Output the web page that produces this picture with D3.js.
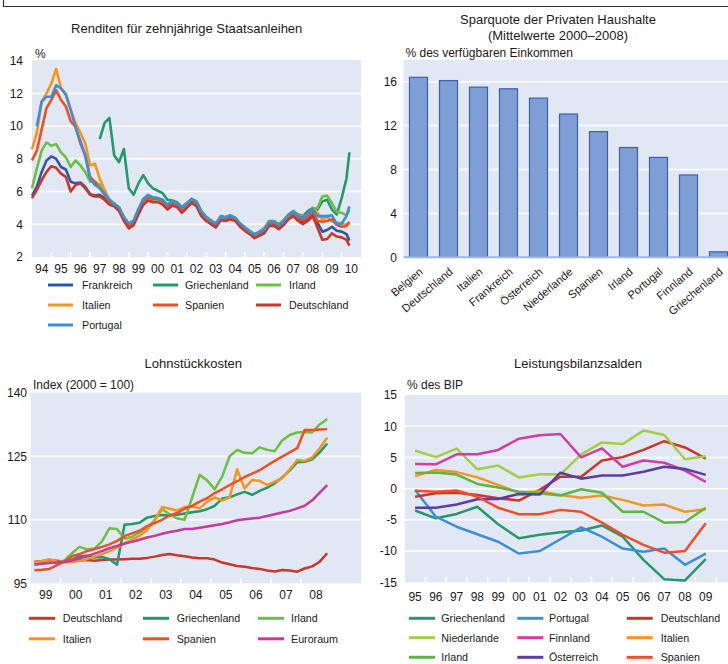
<!DOCTYPE html>
<html><head><meta charset="utf-8">
<script src="https://cdn.jsdelivr.net/npm/d3@7"></script>
<style>
body{margin:0;background:#fff}
svg text{font-family:"Liberation Sans",Arial,sans-serif;fill:#1a1a1a}
</style></head>
<body><svg id="c" width="728" height="664"></svg>
<script>
// ---------- Panel 1: Renditen (quarterly grid) ----------
const yieldDates = [1994.0,1994.25,1994.5,1994.75,1995.0,1995.25,1995.5,1995.75,1996.0,1996.25,1996.5,1996.75,
1997.0,1997.25,1997.5,1997.75,1998.0,1998.25,1998.5,1998.75,1999.0,1999.25,1999.5,1999.75,2000.0,2000.25,2000.5,2000.75,
2001.0,2001.25,2001.5,2001.75,2002.0,2002.25,2002.5,2002.75,2003.0,2003.25,2003.5,2003.75,2004.0,2004.25,2004.5,2004.75,
2005.0,2005.25,2005.5,2005.75,2006.0,2006.25,2006.5,2006.75,2007.0,2007.25,2007.5,2007.75,2008.0,2008.25,2008.5,2008.75,
2009.0,2009.25,2009.5,2009.75,2010.0,2010.25,2010.4];
const yieldFrankreich = [5.75,6.3,7.2,7.9,8.15,8.0,7.5,7.35,6.6,6.5,6.55,6.3,5.85,5.75,5.8,5.6,5.3,5.15,4.95,4.3,
3.85,4.05,4.75,5.35,5.6,5.5,5.45,5.3,5.0,5.25,5.15,4.85,5.1,5.4,5.2,4.6,4.3,4.1,3.9,4.35,
4.3,4.4,4.3,3.95,3.7,3.5,3.25,3.4,3.55,4.0,4.0,3.8,4.05,4.4,4.6,4.35,4.15,4.35,4.7,4.1,
3.55,3.65,3.85,3.6,3.55,3.4,3.0];
const yieldGriechenland = [null,null,null,null,null,null,null,null,null,null,null,null,null,null,9.2,10.2,10.5,8.2,7.8,8.6,
6.2,5.8,6.5,7.0,6.5,6.2,6.05,5.9,5.5,5.45,5.35,5.05,5.3,5.55,5.4,4.8,4.45,4.25,4.05,4.5,
4.45,4.55,4.4,4.05,3.8,3.6,3.4,3.55,3.75,4.2,4.2,4.0,4.25,4.6,4.8,4.6,4.5,4.8,5.0,4.9,
5.4,5.5,4.9,4.6,5.6,6.8,8.4];
const yieldIrland = [6.2,7.4,8.5,9.0,8.8,8.9,8.4,8.1,7.5,7.9,7.6,7.2,6.6,6.6,6.4,6.0,5.5,5.3,5.0,4.4,
3.9,4.1,4.8,5.4,5.6,5.5,5.5,5.35,5.05,5.3,5.2,4.85,5.15,5.45,5.25,4.65,4.35,4.15,3.95,4.4,
4.35,4.45,4.35,4.0,3.75,3.55,3.3,3.45,3.6,4.05,4.05,3.85,4.1,4.45,4.7,4.45,4.35,4.6,4.9,5.0,
5.7,5.75,5.3,4.75,4.7,4.55,4.9];
const yieldItalien = [8.6,9.6,11.5,12.0,12.6,13.5,12.3,12.0,11.0,10.2,9.6,8.95,7.6,7.7,6.8,6.1,5.5,5.2,5.0,4.5,
4.05,4.25,4.9,5.5,5.75,5.6,5.6,5.5,5.2,5.4,5.3,5.0,5.25,5.5,5.35,4.75,4.4,4.25,4.0,4.45,
4.4,4.5,4.4,4.05,3.8,3.6,3.35,3.5,3.7,4.15,4.15,3.95,4.2,4.55,4.75,4.55,4.45,4.6,5.0,4.7,
4.3,4.45,4.2,4.1,4.05,3.95,4.1];
const yieldSpanien = [7.9,8.5,9.8,11.1,11.6,12.2,11.6,11.2,10.3,9.95,8.95,8.2,6.9,6.6,6.2,5.8,5.3,5.2,5.0,4.35,
3.95,4.15,4.85,5.45,5.7,5.55,5.55,5.4,5.1,5.35,5.25,4.9,5.2,5.45,5.3,4.7,4.35,4.2,3.95,4.4,
4.35,4.45,4.3,4.0,3.7,3.5,3.25,3.4,3.6,4.05,4.05,3.8,4.1,4.45,4.65,4.4,4.25,4.45,4.8,4.2,
4.15,4.2,4.3,3.95,3.85,3.9,4.15];
const yieldDeutschland = [5.6,6.1,6.7,7.2,7.55,7.45,7.1,6.9,6.0,6.4,6.5,6.2,5.8,5.7,5.7,5.5,5.2,5.1,4.8,4.2,
3.75,3.95,4.6,5.2,5.45,5.35,5.35,5.2,4.9,5.15,5.05,4.7,5.0,5.3,5.1,4.5,4.2,4.0,3.8,4.25,
4.2,4.3,4.2,3.85,3.6,3.4,3.15,3.3,3.45,3.9,3.9,3.7,3.95,4.3,4.5,4.2,4.0,4.2,4.5,3.8,
3.05,3.1,3.45,3.25,3.2,3.05,2.7];
const yieldPortugal = [null,10.0,11.5,11.8,11.8,12.5,12.3,11.9,11.0,9.9,9.1,8.2,6.8,6.4,6.2,5.9,5.5,5.2,5.05,4.4,
4.05,4.2,4.95,5.55,5.8,5.65,5.6,5.5,5.2,5.4,5.3,5.0,5.25,5.55,5.35,4.75,4.4,4.2,4.0,4.45,
4.4,4.5,4.4,4.05,3.8,3.55,3.35,3.5,3.65,4.1,4.15,3.95,4.15,4.55,4.75,4.5,4.4,4.65,4.95,4.5,
4.5,4.5,4.55,4.0,4.05,4.5,5.1];
const yieldYearLabels = ["94","95","96","97","98","99","00","01","02","03","04","05","06","07","08","09","10"];
const yieldYTicks = [2,4,6,8,10,12,14];

// ---------- Panel 2: Sparquote ----------
const savingCountries = ["Belgien","Deutschland","Italien","Frankreich","Österreich","Niederlande","Spanien","Irland","Portugal","Finnland","Griechenland"];
const savingValues = [16.4,16.1,15.5,15.35,14.5,13.05,11.45,10.0,9.1,7.5,0.5];
const savingYTicks = [0,4,8,12,16];

// ---------- Panel 3: Lohnstückkosten (quarterly 1999Q1-2008Q4) ----------
const ulcYears = ["99","00","01","02","03","04","05","06","07","08"];
const ulcDeutschland = [100.1,100.2,100.4,100.3,100.1,100.2,100.4,100.5,100.3,100.5,100.6,100.6,100.7,100.8,100.8,101.0,101.3,101.7,101.9,101.6,
101.4,101.1,100.9,100.9,100.6,99.9,99.5,99.1,98.9,98.6,98.4,98.0,97.8,98.15,98.0,97.75,98.5,99.0,100.1,102.1];
const ulcGriechenland = [99.8,100.0,100.1,99.8,100.2,100.6,101.4,101.5,101.1,101.2,100.7,99.4,108.8,109.0,109.3,110.5,110.9,111.1,111.0,111.2,
111.5,111.8,112.0,112.5,113.3,115.0,115.3,116.0,116.6,115.9,116.8,117.6,118.6,120.0,121.6,123.6,123.7,124.3,125.9,128.0];
const ulcIrland = [99.8,100.0,100.0,99.9,100.4,102.1,103.6,103.0,103.2,104.9,108.0,107.8,105.5,106.0,107.0,108.2,109.8,112.5,111.3,110.3,
110.0,115.2,120.6,119.3,117.2,120.2,125.0,126.5,125.8,125.7,127.1,126.5,126.2,128.7,130.0,130.6,130.7,130.6,132.5,133.8];
const ulcItalien = [99.9,100.3,100.7,100.1,99.9,100.0,100.3,100.7,101.3,101.9,102.6,103.4,104.4,105.3,106.2,107.5,110.0,113.0,112.6,112.2,
113.0,113.1,112.7,114.3,115.3,114.5,115.3,121.9,117.4,119.4,119.2,118.2,119.0,119.8,121.9,124.1,123.9,124.7,126.9,129.4];
const ulcSpanien = [98.1,98.2,98.4,99.3,100.2,101.4,101.9,102.6,103.1,103.6,104.2,105.0,106.2,106.8,107.4,108.5,109.2,110.0,111.0,111.6,
112.6,113.3,114.3,115.1,116.3,117.2,118.2,119.1,120.1,120.9,121.7,122.8,123.9,124.9,125.9,126.9,131.2,131.2,131.3,131.4];
const ulcEuroraum = [99.4,99.6,99.8,99.9,100.1,100.4,100.9,101.4,102.0,102.6,103.3,103.8,104.4,104.8,105.3,105.8,106.2,106.7,107.1,107.4,
107.8,107.8,108.1,108.4,108.7,109.0,109.4,109.9,110.1,110.3,110.5,110.9,111.3,111.7,112.1,112.7,113.3,114.6,116.4,118.2];
const ulcYTicks = [95,110,125,140];

// ---------- Panel 4: Leistungsbilanzsalden (annual 1995-2009) ----------
const caYears = [1995,1996,1997,1998,1999,2000,2001,2002,2003,2004,2005,2006,2007,2008,2009];
const caYearLabels = ["95","96","97","98","99","00","01","02","03","04","05","06","07","08","09"];
const caGriechenland = [-3.5,-4.75,-4.05,-2.9,-5.7,-7.95,-7.4,-7.0,-6.7,-5.9,-7.7,-11.4,-14.5,-14.7,-11.3];
const caPortugal = [-0.2,-4.5,-6.1,-7.3,-8.5,-10.4,-10.0,-8.1,-6.2,-7.7,-9.6,-10.1,-9.6,-12.2,-10.4];
const caDeutschland = [-1.3,-0.75,-0.65,-1.0,-1.55,-1.9,-0.2,1.9,1.9,4.5,5.05,6.2,7.6,6.6,4.8];
const caNiederlande = [6.1,5.05,6.4,3.1,3.7,1.8,2.3,2.3,5.5,7.4,7.15,9.3,8.6,4.7,5.2];
const caFinnland = [3.95,3.9,5.5,5.5,6.2,8.0,8.55,8.75,5.0,6.45,3.5,4.5,4.15,2.9,1.1];
const caItalien = [2.0,3.0,2.65,1.8,0.6,-0.65,-0.4,-1.0,-1.45,-1.1,-1.8,-2.7,-2.55,-3.7,-3.3];
const caIrland = [2.5,2.6,2.25,0.75,0.2,-0.5,-0.75,-1.1,-0.1,-0.65,-3.7,-3.7,-5.45,-5.35,-3.05];
const caOesterreich = [-3.05,-3.05,-2.55,-1.7,-1.65,-0.85,-0.95,2.55,1.6,2.1,2.1,2.7,3.5,3.15,2.2];
const caSpanien = [-0.35,-0.5,-0.3,-1.3,-3.05,-4.1,-4.1,-3.4,-3.7,-5.45,-7.4,-9.0,-10.25,-10.0,-5.55];
const caYTicks = [-15,-10,-5,0,5,10,15];

// ---------- drawing ----------
const BG = "#e1e8f3";
const svg = d3.select("#c");
svg.append("path").attr("d","M3.5,0V6.5H728").attr("fill","none").attr("stroke","#333").attr("stroke-width",1.2);

function txt(x,y,s,opt={}){
  const t = svg.append("text").attr("x",x).attr("y",y).text(s)
    .attr("font-size",opt.size||12).attr("text-anchor",opt.anchor||"start");
  if(opt.dy) t.attr("dy",opt.dy);
  return t;
}
function legend(items, xs, txs, ys, w){
  items.forEach((it,i)=>{
    const c = i%3, r = Math.floor(i/3);
    svg.append("line").attr("x1",xs[c]).attr("x2",xs[c]+w).attr("y1",ys[r]).attr("y2",ys[r])
      .attr("stroke",it.color).attr("stroke-width",3);
    txt(txs[c],ys[r],it.name,{size:10.7,dy:"0.36em"});
  });
}

// Panel 1
{
  const x = d3.scaleLinear().domain([1994,2011]).range([32,361]);
  const y = d3.scaleLinear().domain([2,14]).range([257,60.7]);
  svg.append("rect").attr("x",32).attr("y",60).attr("width",329).attr("height",197).attr("fill",BG);
  yieldYTicks.forEach(v=>{
    if(v>2 && v<14) svg.append("line").attr("x1",32).attr("x2",361).attr("y1",y(v)).attr("y2",y(v)).attr("stroke","#fff").attr("stroke-width",1.5);
    txt(23,y(v),v,{anchor:"end",dy:"0.36em"});
  });
  yieldYearLabels.forEach((l,i)=>{
    const yr = 1994+i;
    if(i>0) svg.append("line").attr("x1",x(yr)).attr("x2",x(yr)).attr("y1",257).attr("y2",252).attr("stroke","#fff").attr("stroke-width",1.5);
    txt(x(yr+0.5),268.5,l,{anchor:"middle",dy:"0.36em"});
  });
  txt(186.7,28.5,"Renditen für zehnjährige Staatsanleihen",{anchor:"middle",size:13,dy:"0.36em"});
  txt(35,53.5,"%",{dy:"0.36em"});
  const series = [
    {name:"Frankreich",color:"#2c58a8",v:yieldFrankreich},
    {name:"Griechenland",color:"#23996b",v:yieldGriechenland},
    {name:"Irland",color:"#6cbf43",v:yieldIrland},
    {name:"Italien",color:"#f7941d",v:yieldItalien},
    {name:"Spanien",color:"#f04e23",v:yieldSpanien},
    {name:"Deutschland",color:"#c8372a",v:yieldDeutschland},
    {name:"Portugal",color:"#3b8fd9",v:yieldPortugal}
  ];
  const line = d3.line().defined(d=>d[1]!=null).x(d=>x(d[0])).y(d=>y(d[1]));
  series.forEach(s=>{
    svg.append("path").attr("d",line(yieldDates.map((t,i)=>[t,s.v[i]]))).attr("fill","none")
      .attr("stroke",s.color).attr("stroke-width",2.6).attr("stroke-linejoin","round");
  });
  legend(series,[48,153,256],[82,185,289],[285,305,325],25);
}

// Panel 2
{
  const x = d3.scaleBand().domain(savingCountries).range([403.5,733.5]).paddingInner(0.4).paddingOuter(0.2);
  const y = d3.scaleLinear().domain([0,18]).range([257.3,59.7]);
  svg.append("rect").attr("x",403.5).attr("y",60).attr("width",330).attr("height",197.3).attr("fill",BG);
  savingYTicks.forEach(v=>{
    if(v>0) svg.append("line").attr("x1",403.5).attr("x2",733.5).attr("y1",y(v)).attr("y2",y(v)).attr("stroke","#fff").attr("stroke-width",1.5);
    txt(397,y(v),v,{anchor:"end",dy:"0.36em"});
  });
  svg.selectAll(".bar").data(savingCountries).enter().append("rect")
    .attr("x",d=>x(d)).attr("width",x.bandwidth())
    .attr("y",(d,i)=>y(savingValues[i])).attr("height",(d,i)=>y(0)-y(savingValues[i]))
    .attr("fill","#7f9ed6").attr("stroke","#3a60b2").attr("stroke-width",1.2);
  svg.append("line").attr("x1",403.5).attr("x2",733.5).attr("y1",y(0)).attr("y2",y(0)).attr("stroke","#9bb7e4").attr("stroke-width",2);
  savingCountries.forEach(c=>{
    const cx = x(c)+x.bandwidth()/2;
    svg.append("text").attr("transform",`translate(${cx+5},${273}) rotate(-40)`)
      .attr("text-anchor","end").attr("font-size",11.2).text(c);
  });
  txt(558,19.5,"Sparquote der Privaten Haushalte",{anchor:"middle",size:13,dy:"0.36em"});
  txt(558,35,"(Mittelwerte 2000–2008)",{anchor:"middle",size:13,dy:"0.36em"});
  txt(405.5,52.5,"% des verfügbaren Einkommen",{dy:"0.36em"});
}

// Panel 3
{
  const x = d3.scaleLinear().domain([1999,2010]).range([30.7,361]);
  const y = d3.scaleLinear().domain([95,140]).range([583.3,392.7]);
  svg.append("rect").attr("x",30.7).attr("y",392.7).attr("width",330.3).attr("height",190.6).attr("fill",BG);
  ulcYTicks.forEach(v=>{
    if(v>95 && v<140) svg.append("line").attr("x1",30.7).attr("x2",361).attr("y1",y(v)).attr("y2",y(v)).attr("stroke","#fff").attr("stroke-width",1.5);
    txt(27,y(v),v,{anchor:"end",dy:"0.36em"});
  });
  ulcYears.forEach((l,i)=>{
    const yr = 1999+i;
    if(i>0) svg.append("line").attr("x1",x(yr)).attr("x2",x(yr)).attr("y1",583.3).attr("y2",578).attr("stroke","#fff").attr("stroke-width",1.5);
    txt(x(yr+0.5),595,l,{anchor:"middle",dy:"0.36em"});
  });
  txt(193.3,363,"Lohnstückkosten",{anchor:"middle",size:13,dy:"0.36em"});
  txt(33,385,"Index (2000 = 100)",{dy:"0.36em"});
  const series = [
    {name:"Deutschland",color:"#c8372a",v:ulcDeutschland},
    {name:"Griechenland",color:"#23996b",v:ulcGriechenland},
    {name:"Irland",color:"#6cbf43",v:ulcIrland},
    {name:"Italien",color:"#f7941d",v:ulcItalien},
    {name:"Spanien",color:"#f04e23",v:ulcSpanien},
    {name:"Euroraum",color:"#c8399b",v:ulcEuroraum}
  ];
  const line = d3.line().x((d,i)=>x(1999+Math.floor(i/4)+((i%4)+0.5)/4)).y(d=>y(d));
  series.forEach(s=>{
    svg.append("path").attr("d",line(s.v)).attr("fill","none").attr("stroke",s.color)
      .attr("stroke-width",2.5).attr("stroke-linejoin","round");
  });
  legend(series,[29,143,258],[62.7,176.7,291],[618.3,638.8],26);
}

// Panel 4
{
  const x = d3.scaleLinear().domain([1995,2011]).range([404.7,736.9]);
  const y = d3.scaleLinear().domain([-15,15]).range([582.3,395]);
  svg.append("rect").attr("x",404.7).attr("y",395).attr("width",332).attr("height",187.3).attr("fill",BG);
  caYTicks.forEach(v=>{
    if(v>-15 && v<15) svg.append("line").attr("x1",404.7).attr("x2",736.9).attr("y1",y(v)).attr("y2",y(v)).attr("stroke","#fff").attr("stroke-width",1.5);
    txt(397,y(v),v,{anchor:"end",dy:"0.36em"});
  });
  caYears.forEach((yr,i)=>{
    svg.append("line").attr("x1",x(yr+1)).attr("x2",x(yr+1)).attr("y1",582.3).attr("y2",577).attr("stroke","#fff").attr("stroke-width",1.5);
    txt(x(yr+0.5),596.7,caYearLabels[i],{anchor:"middle",dy:"0.36em"});
  });
  txt(578,363,"Leistungsbilanzsalden",{anchor:"middle",size:13,dy:"0.36em"});
  txt(407,385,"% des BIP",{dy:"0.36em"});
  const series = [
    {name:"Griechenland",color:"#23996b",v:caGriechenland},
    {name:"Portugal",color:"#3b8fd9",v:caPortugal},
    {name:"Deutschland",color:"#c8372a",v:caDeutschland},
    {name:"Niederlande",color:"#a2cd45",v:caNiederlande},
    {name:"Finnland",color:"#d23d9f",v:caFinnland},
    {name:"Italien",color:"#f7941d",v:caItalien},
    {name:"Irland",color:"#5db642",v:caIrland},
    {name:"Österreich",color:"#5a3ea6",v:caOesterreich},
    {name:"Spanien",color:"#f04e23",v:caSpanien}
  ];
  const line = d3.line().x((d,i)=>x(caYears[i]+0.5)).y(d=>y(d));
  series.forEach(s=>{
    svg.append("path").attr("d",line(s.v)).attr("fill","none").attr("stroke",s.color)
      .attr("stroke-width",2.5).attr("stroke-linejoin","round");
  });
  legend(series,[409,517.3,626.7],[441.3,549,660.7],[618.3,637.7,657.3],26);
}
</script></body></html>
